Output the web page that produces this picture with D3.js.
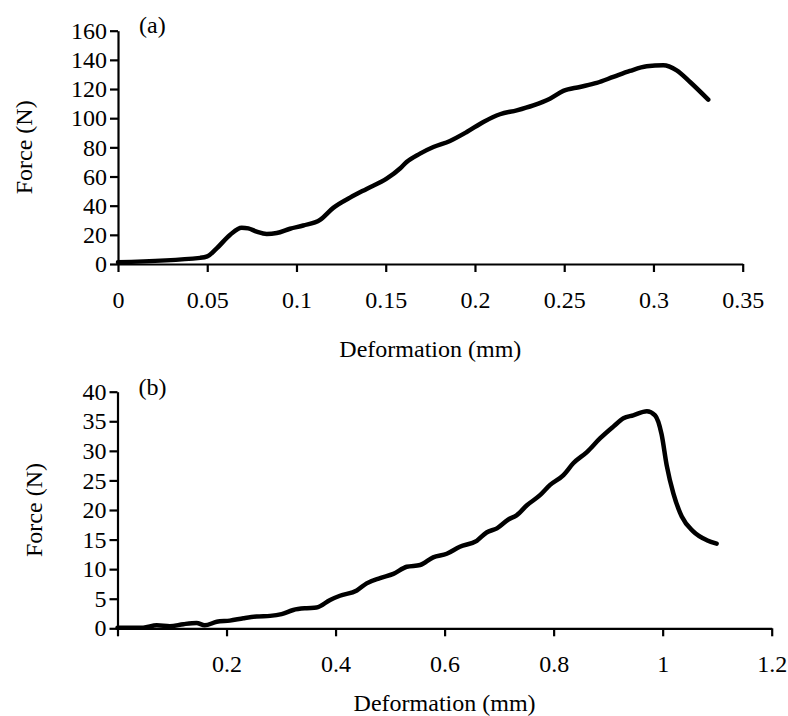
<!DOCTYPE html>
<html>
<head>
<meta charset="utf-8">
<script src="https://cdn.jsdelivr.net/npm/d3@7"></script>
<style>
  body { margin: 0; background: #fff; }
  svg text { font-family: "Liberation Serif", "Times New Roman", serif; fill: #000; }
</style>
</head>
<body>
<div id="chart"></div>
<script>
// Panel (a): deformation (mm) vs force (N)
const defA = [0, 0.046, 0.05, 0.0553, 0.0627, 0.0693, 0.073, 0.0777, 0.0833, 0.0889, 0.0964, 0.1038, 0.1132,
  0.1206, 0.13, 0.1393, 0.1505, 0.158, 0.1617, 0.1692, 0.1767, 0.186, 0.1954, 0.2047, 0.214, 0.2234, 0.2327,
  0.242, 0.2495, 0.2588, 0.2682, 0.2775, 0.2868, 0.2962, 0.3055, 0.313, 0.3205, 0.3307];
const forceA = [1.2, 4.2, 5.2, 10.7, 19.9, 24.9, 24.4, 22.2, 20.6, 21.2, 24.2, 26.4, 30.3,
  38.5, 45.5, 51.5, 58.5, 65.5, 70.0, 75.7, 80.2, 84.4, 90.5, 97.4, 102.7, 105.4, 108.8,
  113.4, 118.7, 121.4, 124.2, 128.3, 132.4, 135.6, 136.3, 132.8, 124.8, 112.7];

// Panel (b)
const defB = [0, 0.047, 0.072, 0.096, 0.121, 0.145, 0.16, 0.182, 0.206, 0.231, 0.255, 0.28, 0.301, 0.3225,
  0.347, 0.365, 0.39, 0.408, 0.439, 0.457, 0.4816, 0.506, 0.5306, 0.555, 0.579, 0.604, 0.628, 0.659, 0.677,
  0.696, 0.717, 0.732, 0.751, 0.775, 0.793, 0.818, 0.836, 0.861, 0.885, 0.9095, 0.928, 0.946, 0.971, 0.986,
  0.998, 1.0075, 1.0196, 1.035, 1.056, 1.081, 1.099];
const forceB = [0.1, 0.1, 0.5, 0.35, 0.7, 0.9, 0.5, 1.1, 1.3, 1.7, 2.0, 2.1, 2.4, 3.1,
  3.4, 3.5, 4.8, 5.5, 6.4, 7.6, 8.5, 9.2, 10.4, 10.7, 12.0, 12.6, 13.8, 14.8, 16.2,
  16.9, 18.4, 19.1, 20.8, 22.5, 24.2, 25.9, 27.9, 29.8, 32.1, 34.1, 35.5, 36.0, 36.7, 36.0,
  32.8, 27.5, 22.8, 18.9, 16.4, 14.9, 14.3];

const xTicksA = [0, 0.05, 0.1, 0.15, 0.2, 0.25, 0.3, 0.35];
const yTicksA = [0, 20, 40, 60, 80, 100, 120, 140, 160];
const xTicksB = [0, 0.2, 0.4, 0.6, 0.8, 1, 1.2];
const yTicksB = [0, 5, 10, 15, 20, 25, 30, 35, 40];

const W = 788, H = 716;
const svg = d3.select('#chart').append('svg')
  .attr('width', W)
  .attr('height', H);

function drawPanel(p) {
  const g = svg.append('g');
  const x = d3.scaleLinear().domain(p.xDomain).range([p.left, p.right]);
  const y = d3.scaleLinear().domain(p.yDomain).range([p.bottom, p.top]);

  // x axis
  const xAxis = g.append('g')
    .attr('transform', `translate(0,${p.bottom})`)
    .call(d3.axisBottom(x).tickValues(p.xTicks).tickSize(8).tickSizeOuter(0).tickPadding(19)
      .tickFormat(d => (p.hideZero && d === 0) ? '' : d3.format('')(d)));

  // y axis
  const yAxis = g.append('g')
    .attr('transform', `translate(${p.left},0)`)
    .call(d3.axisLeft(y).tickValues(p.yTicks).tickSize(8).tickSizeOuter(0).tickPadding(3));

  [xAxis, yAxis].forEach(a => {
    a.select('.domain').attr('stroke', '#000').attr('stroke-width', 2.2);
    a.selectAll('.tick line').attr('stroke', '#000').attr('stroke-width', 2.2);
    a.selectAll('.tick text').attr('font-size', 24).attr('font-family', '"Liberation Serif", serif');
  });

  const line = d3.line()
    .x((d, i) => x(p.xs[i]))
    .y(d => y(d))
    .curve(d3.curveMonotoneX);

  g.append('path')
    .datum(p.ys)
    .attr('fill', 'none')
    .attr('stroke', '#000')
    .attr('stroke-width', 4.5)
    .attr('stroke-linejoin', 'round')
    .attr('stroke-linecap', 'round')
    .attr('d', line);

  // panel label
  g.append('text')
    .attr('x', p.left + 21)
    .attr('y', p.labelY)
    .attr('font-size', 24)
    .text(p.label);

  // axis titles
  g.append('text')
    .attr('x', (p.left + p.right) / 2)
    .attr('y', p.xTitleY)
    .attr('text-anchor', 'middle')
    .attr('font-size', 24)
    .text('Deformation (mm)');

  g.append('text')
    .attr('transform', `translate(${p.yTitleX},${(p.top + p.bottom) / 2}) rotate(-90)`)
    .attr('text-anchor', 'middle')
    .attr('font-size', 24)
    .text('Force (N)');
}

drawPanel({
  xs: defA, ys: forceA, xTicks: xTicksA, yTicks: yTicksA,
  xDomain: [0, 0.35], yDomain: [0, 160],
  left: 118, right: 742.7, top: 30.7, bottom: 264,
  label: '(a)', labelY: 33, xTitleY: 357, yTitleX: 32, hideZero: false
});

drawPanel({
  xs: defB, ys: forceB, xTicks: xTicksB, yTicks: yTicksB,
  xDomain: [0, 1.2], yDomain: [0, 40],
  left: 117.5, right: 771.7, top: 391.7, bottom: 628.3,
  label: '(b)', labelY: 395, xTitleY: 711, yTitleX: 42, hideZero: true
});
</script>
</body>
</html>
